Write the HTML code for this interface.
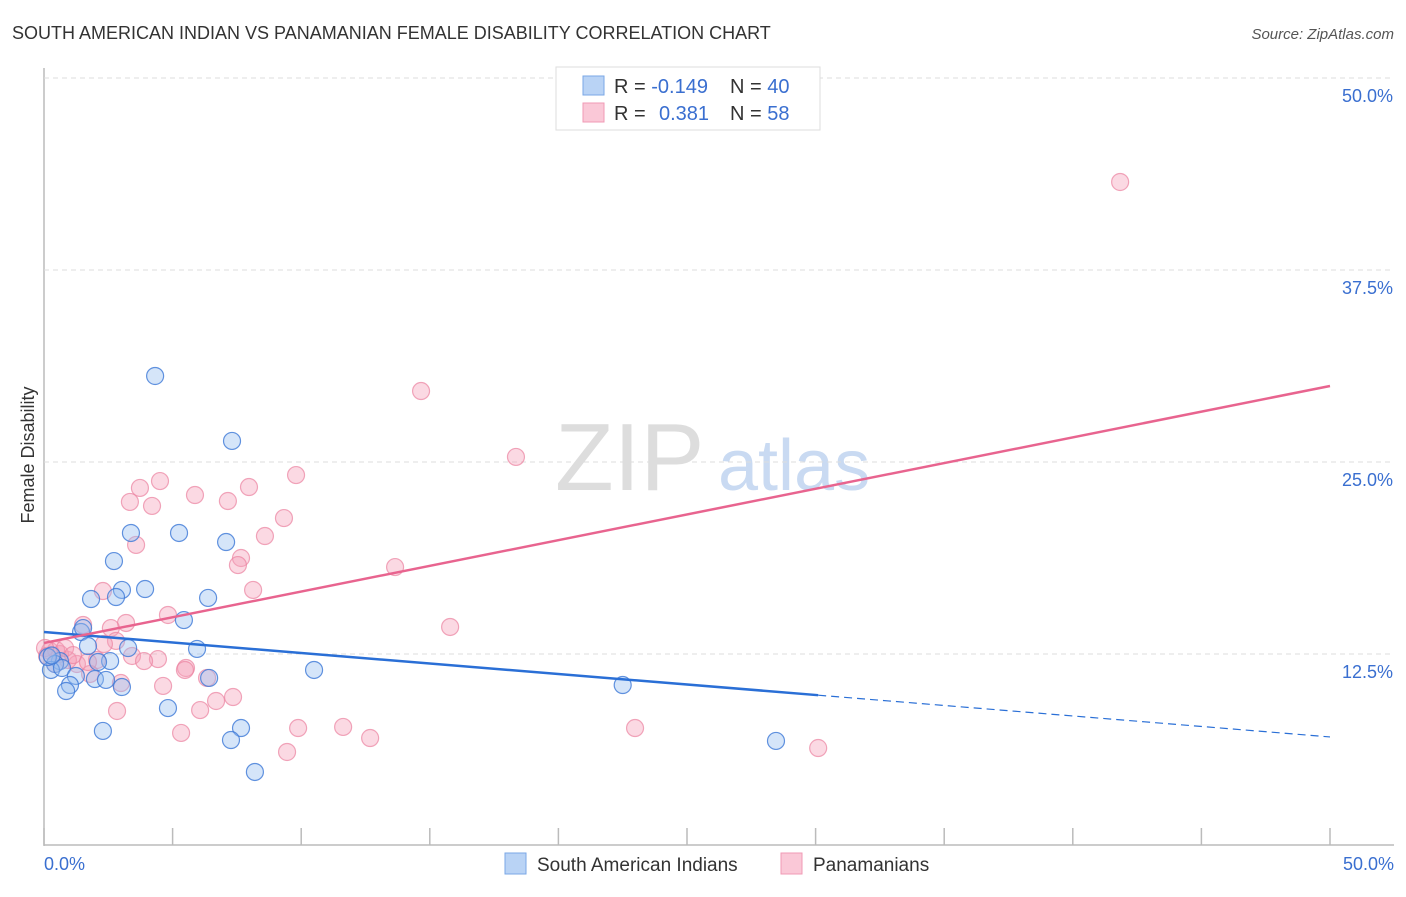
<!DOCTYPE html>
<html><head><meta charset="utf-8"><style>
body{margin:0;background:#fff;font-family:"Liberation Sans",sans-serif;}
svg text{font-family:"Liberation Sans",sans-serif;}
</style></head><body>
<svg id="chart" width="1406" height="892" xmlns="http://www.w3.org/2000/svg">
<text x="12" y="39" font-size="18" fill="#333">SOUTH AMERICAN INDIAN VS PANAMANIAN FEMALE DISABILITY CORRELATION CHART</text>
<text x="1394" y="39" font-size="15" fill="#555" font-style="italic" text-anchor="end">Source: ZipAtlas.com</text>
<text x="34" y="455" font-size="18" fill="#333" transform="rotate(-90 34 455)" text-anchor="middle">Female Disability</text>
<text x="555" y="490" font-size="96" fill="#ddd" font-family="Liberation Serif">ZIP</text>
<text x="718" y="490" font-size="72" fill="#c9daf2">atlas</text>
<g id="grid"></g><g id="marks"></g>
<g>
<rect x="556" y="67" width="264" height="63" fill="#fff" stroke="#ddd"/>
<rect x="583" y="76" width="21" height="19" fill="#b9d3f5" stroke="#7aa7e6"/>
<rect x="583" y="103" width="21" height="19" fill="#fac8d7" stroke="#f09ab4"/>
<text x="614" y="93" font-size="20" fill="#333">R = <tspan fill="#3a6fd0">-0.149</tspan></text>
<text x="730" y="93" font-size="20" fill="#333">N = <tspan fill="#3a6fd0">40</tspan></text>
<text x="614" y="120" font-size="20" fill="#333">R = <tspan fill="#3a6fd0" x="659">0.381</tspan></text>
<text x="730" y="120" font-size="20" fill="#333">N = <tspan fill="#3a6fd0">58</tspan></text>
</g>
<g>
<rect x="505" y="853" width="21" height="21" fill="#b9d3f5" stroke="#7aa7e6"/>
<text x="537" y="871" font-size="19" fill="#333">South American Indians</text>
<rect x="781" y="853" width="21" height="21" fill="#fac8d7" stroke="#f09ab4"/>
<text x="813" y="871" font-size="19" fill="#333">Panamanians</text>
</g>
</svg>
<script>
const xTicks=[0,5,10,15,20,25,30,35,40,45,50];
const yTicks=[12.5,25,37.5,50];
const yTickLabels=["12.5%","25.0%","37.5%","50.0%"];
const blueX=[4.32,7.31,3.38,5.25,7.08,2.72,3.03,3.93,1.83,2.80,6.38,5.44,1.44,1.52,5.95,1.71,3.27,0.62,0.43,2.57,2.10,0.27,0.70,1.24,1.98,2.41,6.42,3.03,1.01,0.86,10.5,22.5,4.82,2.29,7.66,7.27,28.46,8.2,0.15,0.3];
const blueY=[30.6,26.37,20.38,20.38,19.79,18.55,16.67,16.73,16.08,16.21,16.15,14.71,13.93,14.19,12.83,13.02,12.89,12.04,11.85,12.04,11.98,11.46,11.59,11.07,10.87,10.81,10.94,10.35,10.48,10.09,11.46,10.48,8.98,7.49,7.68,6.90,6.84,4.82,12.3,12.4];
const pinkX=[41.84,14.66,18.35,9.80,4.51,3.73,5.87,7.97,3.34,4.20,7.15,9.33,8.59,3.58,7.66,7.54,13.65,8.13,2.29,4.82,1.52,3.19,2.60,15.79,2.80,2.33,5.52,5.48,2.06,4.43,3.42,3.89,1.28,0.93,0.62,0.23,0.47,0.04,0.82,1.79,6.34,2.99,4.63,7.35,6.69,2.84,6.07,9.88,11.63,22.98,5.33,12.68,9.45,30.1,1.13,1.71,0.12,0.43];
const pinkY=[43.23,29.62,25.33,24.15,23.76,23.31,22.85,23.37,22.40,22.14,22.46,21.35,20.18,19.60,18.75,18.29,18.16,16.67,16.60,15.04,14.39,14.52,14.19,14.26,13.35,13.15,11.59,11.46,12.11,12.17,12.37,12.04,11.85,12.11,12.5,12.70,12.76,12.89,12.89,11.2,10.94,10.61,10.42,9.70,9.44,8.79,8.85,7.68,7.75,7.68,7.36,7.03,6.12,6.38,12.43,11.98,12.37,11.85];
const blueTrend=[13.93,7.10];
const pinkTrend=[13.22,29.95];
const NS="http://www.w3.org/2000/svg";
const X=v=>44+v/50*1286, Y=v=>846-v/12.5*192;
function mk(tag,attrs,parent){const e=document.createElementNS(NS,tag);for(const k in attrs)e.setAttribute(k,attrs[k]);parent.appendChild(e);return e;}
const grid=document.getElementById('grid'), marks=document.getElementById('marks');
let ax=mk('line',{x1:44,y1:68,x2:44,y2:846,stroke:'#bbb','stroke-width':1.5},grid);


let bx=mk('line',{x1:44,y1:845,x2:1394,y2:845,stroke:'#bbb','stroke-width':1.5},grid);


yTicks.forEach((t,i)=>{
 const g=mk('line',{x1:44,y1:Y(t),x2:1394,y2:Y(t),stroke:'#ddd','stroke-dasharray':'5,4'},grid);
 
 
 const l=mk('text',{x:1393,y:Y(t)+24,'font-size':18,fill:'#3a6fd0','text-anchor':'end'},grid);
 l.textContent=yTickLabels[i];
 
 
});
xTicks.forEach(t=>{
 const k=mk('line',{x1:X(t),y1:828,x2:X(t),y2:845,stroke:'#bbb','stroke-width':1.5},grid);
 
 
});
[[0,'start',44],[50,'end',1394]].forEach(([v,a,px])=>{
 const l=mk('text',{x:px,y:870,'font-size':18,fill:'#3a6fd0','text-anchor':a},grid);
 l.textContent=v.toFixed(1)+'%';
 
 
});
pinkX.forEach((x,i)=>{
 const c=mk('circle',{cx:X(x),cy:Y(pinkY[i]),r:8.5,fill:'rgba(245,160,185,0.4)',stroke:'rgba(235,130,160,0.7)','stroke-width':1.2},marks);
 
 
});
blueX.forEach((x,i)=>{
 const c=mk('circle',{cx:X(x),cy:Y(blueY[i]),r:8.5,fill:'rgba(150,190,240,0.4)',stroke:'rgba(60,120,215,0.8)','stroke-width':1.2},marks);
 
 
});
const bAt=x=>blueTrend[0]+(blueTrend[1]-blueTrend[0])*x/50;
let bl=mk('line',{x1:X(0),y1:Y(bAt(0)),x2:X(30.1),y2:Y(bAt(30.1)),stroke:'#2a6fd6','stroke-width':2.5},marks);


let bd=mk('line',{x1:X(30.1),y1:Y(bAt(30.1)),x2:X(50),y2:Y(bAt(50)),stroke:'#2a6fd6','stroke-width':1.2,'stroke-dasharray':'8,5'},marks);


let pl=mk('line',{x1:X(0),y1:Y(pinkTrend[0]),x2:X(50),y2:Y(pinkTrend[1]),stroke:'#e8648f','stroke-width':2.5},marks);


</script>
</body></html>
